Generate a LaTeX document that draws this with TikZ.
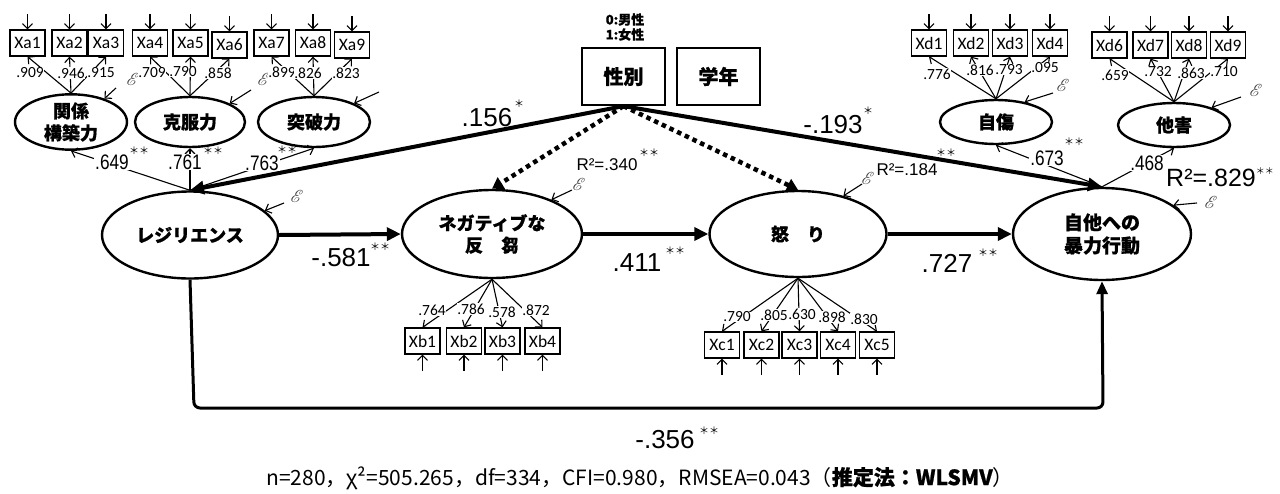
\documentclass[tikz,border=0pt]{standalone}
\usepackage{fontspec}
\usepackage{mathrsfs}
\setmainfont{Liberation Sans}
\newfontfamily\calfont{Carlito}
\newfontfamily\narrowfont{Liberation Sans}[FakeStretch=0.82]
\newfontfamily\jpfont{Noto Sans CJK JP}[BoldFeatures={FakeBold=0.8}]
\usetikzlibrary{shapes.geometric,arrows.meta}
\tikzset{
  lat/.style={ellipse, draw, line width=2.4pt, inner sep=0pt, align=center,
    font=\jpfont\bfseries\fontsize{18}{22}\selectfont},
  ind/.style={draw, line width=1.3pt, minimum width=35pt, minimum height=26pt,
    inner sep=0pt, font=\calfont\fontsize{17.5}{17.5}\selectfont},
  boxv/.style={draw, line width=2.2pt, minimum width=83pt, minimum height=57pt,
    inner sep=0pt, font=\jpfont\bfseries\fontsize{20}{20}\selectfont},
  thinarr/.style={line width=1.1pt, -{Straight Barb[length=5pt,width=10pt]}},
  thickarr/.style={line width=4pt, -{Triangle[length=14pt,width=13pt]}},
  dotarr/.style={line width=4.5pt, dash pattern=on 4.5pt off 4pt,
    -{Triangle[length=11pt,width=13pt]}},
  coef/.style={font=\fontsize{26}{26}\selectfont, inner sep=0pt},
  mcoef/.style={font=\narrowfont\fontsize{21}{21}\selectfont, inner sep=1pt, fill=white},
  rsq/.style={font=\fontsize{17}{17}\selectfont, inner sep=0pt},
  star/.style={font=\jpfont\fontsize{10}{10}\selectfont, inner sep=0pt},
  lo/.style={font=\calfont\fontsize{15.5}{15.5}\selectfont, fill=white, inner sep=0.4pt},
  eps/.style={font=\fontsize{17}{17}\selectfont, inner sep=0pt, text=black!75},
}
\begin{document}
\begin{tikzpicture}[x=1pt,y=-1pt]
\useasboundingbox (0,0) rectangle (1280,493);

% ---------- indicator boxes ----------
\node[ind] (Xa1) at (27.5,43) {Xa1};
\node[ind] (Xa2) at (69.5,43) {Xa2};
\node[ind] (Xa3) at (106,43) {Xa3};
\node[ind] (Xa4) at (150,43) {Xa4};
\node[ind] (Xa5) at (190.5,43) {Xa5};
\node[ind] (Xa6) at (229.5,45) {Xa6};
\node[ind] (Xa7) at (271.5,43) {Xa7};
\node[ind] (Xa8) at (313,43) {Xa8};
\node[ind] (Xa9) at (352,45) {Xa9};

\node[ind] (Xd1) at (929,43) {Xd1};
\node[ind] (Xd2) at (971,43) {Xd2};
\node[ind] (Xd3) at (1010,43) {Xd3};
\node[ind] (Xd4) at (1050,43) {Xd4};
\node[ind] (Xd6) at (1109.5,45) {Xd6};
\node[ind] (Xd7) at (1150.5,45) {Xd7};
\node[ind] (Xd8) at (1189,45) {Xd8};
\node[ind] (Xd9) at (1228,45) {Xd9};

\node[ind] (Xb1) at (422.5,341) {Xb1};
\node[ind] (Xb2) at (464,341) {Xb2};
\node[ind] (Xb3) at (502.5,341) {Xb3};
\node[ind] (Xb4) at (542.5,341) {Xb4};

\node[ind] (Xc1) at (722,345) {Xc1};
\node[ind] (Xc2) at (761.5,345) {Xc2};
\node[ind] (Xc3) at (799.5,345) {Xc3};
\node[ind] (Xc4) at (838,345) {Xc4};
\node[ind] (Xc5) at (877,345) {Xc5};

% ---------- latent variables ----------
\node[lat, minimum width=112pt, minimum height=50pt] (kan) at (71,122) {関係\\構築力};
\node[lat, minimum width=110pt, minimum height=50pt] (kok) at (190,122) {克服力};
\node[lat, minimum width=112pt, minimum height=50pt] (tot) at (314,122) {突破力};
\node[lat, minimum width=112pt, minimum height=44pt] (jis) at (996,122) {自傷};
\node[lat, minimum width=112pt, minimum height=44pt] (tag) at (1174,125) {他害};

\node[lat, minimum width=176pt, minimum height=87pt] (res) at (190,235) {レジリエンス};
\node[lat, minimum width=180pt, minimum height=88pt] (neg) at (492,234) {ネガティブな\\反　芻};
\node[lat, minimum width=177pt, minimum height=86pt] (ang) at (798,234) {怒　り};
\node[lat, minimum width=178pt, minimum height=92pt,
  font=\jpfont\bfseries\fontsize{19}{23}\selectfont] (jita) at (1102,234) {自他への\\暴力行動};

% ---------- covariates ----------
\node[boxv] (sei) at (623.5,76.5) {性別};
\node[boxv] (gak) at (718.5,76.5) {学年};
\node[font=\jpfont\bfseries\fontsize{13}{15}\selectfont, align=center, inner sep=0pt]
  (code) at (625,27) {0:男性\\1:女性};

% ---------- error arrows on indicators ----------
\foreach \i in {1,...,9} \draw[thinarr] ([yshift=15pt]Xa\i.north) -- (Xa\i.north);
\foreach \i in {1,2,3,4,6,7,8,9} \draw[thinarr] ([yshift=15pt]Xd\i.north) -- (Xd\i.north);
\foreach \i in {1,...,4} \draw[thinarr] ([yshift=-16pt]Xb\i.south) -- (Xb\i.south);
\foreach \i in {1,...,5} \draw[thinarr] ([yshift=-16pt]Xc\i.south) -- (Xc\i.south);

% ---------- loadings ----------
\foreach \i in {1,2,3} \draw[thinarr] (kan.north) -- (Xa\i.south);
\foreach \i in {4,5,6} \draw[thinarr] (kok.north) -- (Xa\i.south);
\foreach \i in {7,8,9} \draw[thinarr] (tot.north) -- (Xa\i.south);
\foreach \i in {1,2,3,4} \draw[thinarr] (jis.north) -- (Xd\i.south);
\foreach \i in {6,7,8,9} \draw[thinarr] (tag.north) -- (Xd\i.south);
\foreach \i in {1,...,4} \draw[thinarr] (neg.south) -- (Xb\i.north);
\foreach \i in {1,...,5} \draw[thinarr] (ang.south) -- (Xc\i.north);

% second-order
\draw[thinarr] (res.north) -- (kan.south);
\draw[thinarr] (res.north) -- (kok.south);
\draw[thinarr] (res.north) -- (tot.south);
\draw[thinarr] (jita.north) -- (jis.south);
\draw[thinarr] (jita.north) -- (tag.south);

% ---------- structural paths ----------
\draw[thickarr] (sei.south) -- (res.north);
\draw[thickarr] (sei.south) -- (jita.north);
\draw[dotarr] (sei.south) -- (neg.north);
\draw[dotarr] (sei.south) -- (ang.north);
\draw[thickarr] (res.east) -- (neg.west);
\draw[thickarr] (neg.east) -- (ang.west);
\draw[thickarr] (ang.east) -- (jita.west);
\coordinate (bl) at (194,408);
\coordinate (br) at (1103,408);
\draw[line width=3pt, rounded corners=6pt, -{Triangle[length=13pt,width=11pt]}]
  (res.south) -- (bl) -- (br) -- (jita.south);

% ---------- disturbance terms ----------
\node[eps] (e1) at (133,79) {$\mathscr{E}$};
\node[eps] (e2) at (264,79) {$\mathscr{E}$};
\node[eps] (e4) at (297,196) {$\mathscr{E}$};
\node[eps] (e5) at (579,184) {$\mathscr{E}$};
\node[eps] (e6) at (868,178) {$\mathscr{E}$};
\node[eps] (e7) at (1211,202) {$\mathscr{E}$};
\node[eps] (e8) at (1063,85) {$\mathscr{E}$};
\node[eps] (e9) at (1256,90) {$\mathscr{E}$};
\coordinate (d1) at (116,88);
\coordinate (d2) at (251,90);
\coordinate (d3) at (379,92);
\coordinate (d4) at (284,203);
\coordinate (d5) at (572,190);
\coordinate (d6) at (862,184);
\coordinate (d7) at (1197,203);
\coordinate (d8) at (1053,93);
\coordinate (d9) at (1241,97);
\draw[thinarr] (d1) -- (kan.35);
\draw[thinarr] (d2) -- (kok.25);
\draw[thinarr] (d3) -- (tot.25);
\draw[thinarr] (d4) -- (res.18);
\draw[thinarr] (d5) -- (neg.30);
\draw[thinarr] (d6) -- (ang.40);
\draw[thinarr] (d7) -- (jita.22);
\draw[thinarr] (d8) -- (jis.35);
\draw[thinarr] (d9) -- (tag.25);

% ---------- loading labels ----------
\node[lo] at (30,73) {.909};
\node[lo] at (71,73) {.946};
\node[lo] at (101,73) {.915};
\node[lo] at (152,73) {.709};
\node[lo] at (183,72) {.790};
\node[lo] at (218,73) {.858};
\node[lo] at (282,72) {.899};
\node[lo] at (308,73) {.826};
\node[lo] at (346,73) {.823};

\node[lo] at (937,74) {.776};
\node[lo] at (980,70) {.816};
\node[lo] at (1009,70) {.793};
\node[lo] at (1045,68) {.095};
\node[lo] at (1115,75) {.659};
\node[lo] at (1158,72) {.732};
\node[lo] at (1191,73) {.863};
\node[lo] at (1224,72) {.710};

\node[lo] at (432,310) {.764};
\node[lo] at (471,309) {.786};
\node[lo] at (502,312) {.578};
\node[lo] at (536,310) {.872};

\node[lo] at (737,317) {.790};
\node[lo] at (774,315) {.805};
\node[lo] at (802,314) {.630};
\node[lo] at (832,317) {.898};
\node[lo] at (864,319) {.830};

% ---------- second-order coefficients ----------
\node[mcoef] at (112,162) {.649};
\node[star] at (139,151) {＊＊};
\node[mcoef] at (185,162) {.761};
\node[star] at (213,151) {＊＊};
\node[mcoef] at (262,163) {.763};
\node[star] at (287,150) {＊＊};
\node[mcoef] at (1047,158) {.673};
\node[star] at (1074,142) {＊＊};
\node[mcoef] at (1147,163) {.468};

% ---------- structural coefficients ----------
\node[coef] at (487,118) {.156};
\node[star] at (519,104) {＊};
\node[coef] at (833,125) {-.193};
\node[star] at (868,111) {＊};
\node[star] at (946,153) {＊＊};
\node[coef] at (341,258) {-.581};
\node[star] at (380,247) {＊＊};
\node[coef] at (637,263) {.411};
\node[star] at (675,251) {＊＊};
\node[coef] at (947,263) {.727};
\node[star] at (988,253) {＊＊};
\node[coef] at (665,440) {-.356};
\node[star] at (709,431) {＊＊};

\node[rsq] at (607,165) {R²=.340};
\node[star] at (649,153) {＊＊};
\node[rsq] at (907,170) {R²=.184};
\node[font=\fontsize{25}{25}\selectfont, inner sep=0pt, anchor=base west] at (1166,186)
  {R²=.829\raisebox{12pt}{\jpfont\fontsize{9}{9}\selectfont ＊＊}};

% ---------- fit indices ----------
\node[font=\jpfont\fontsize{21}{21}\selectfont, inner sep=0pt] (fit) at (640,478)
  {n=280，χ²=505.265，df=334，CFI=0.980，RMSEA=0.043（{\bfseries 推定法：WLSMV}）};
\end{tikzpicture}
\end{document}
